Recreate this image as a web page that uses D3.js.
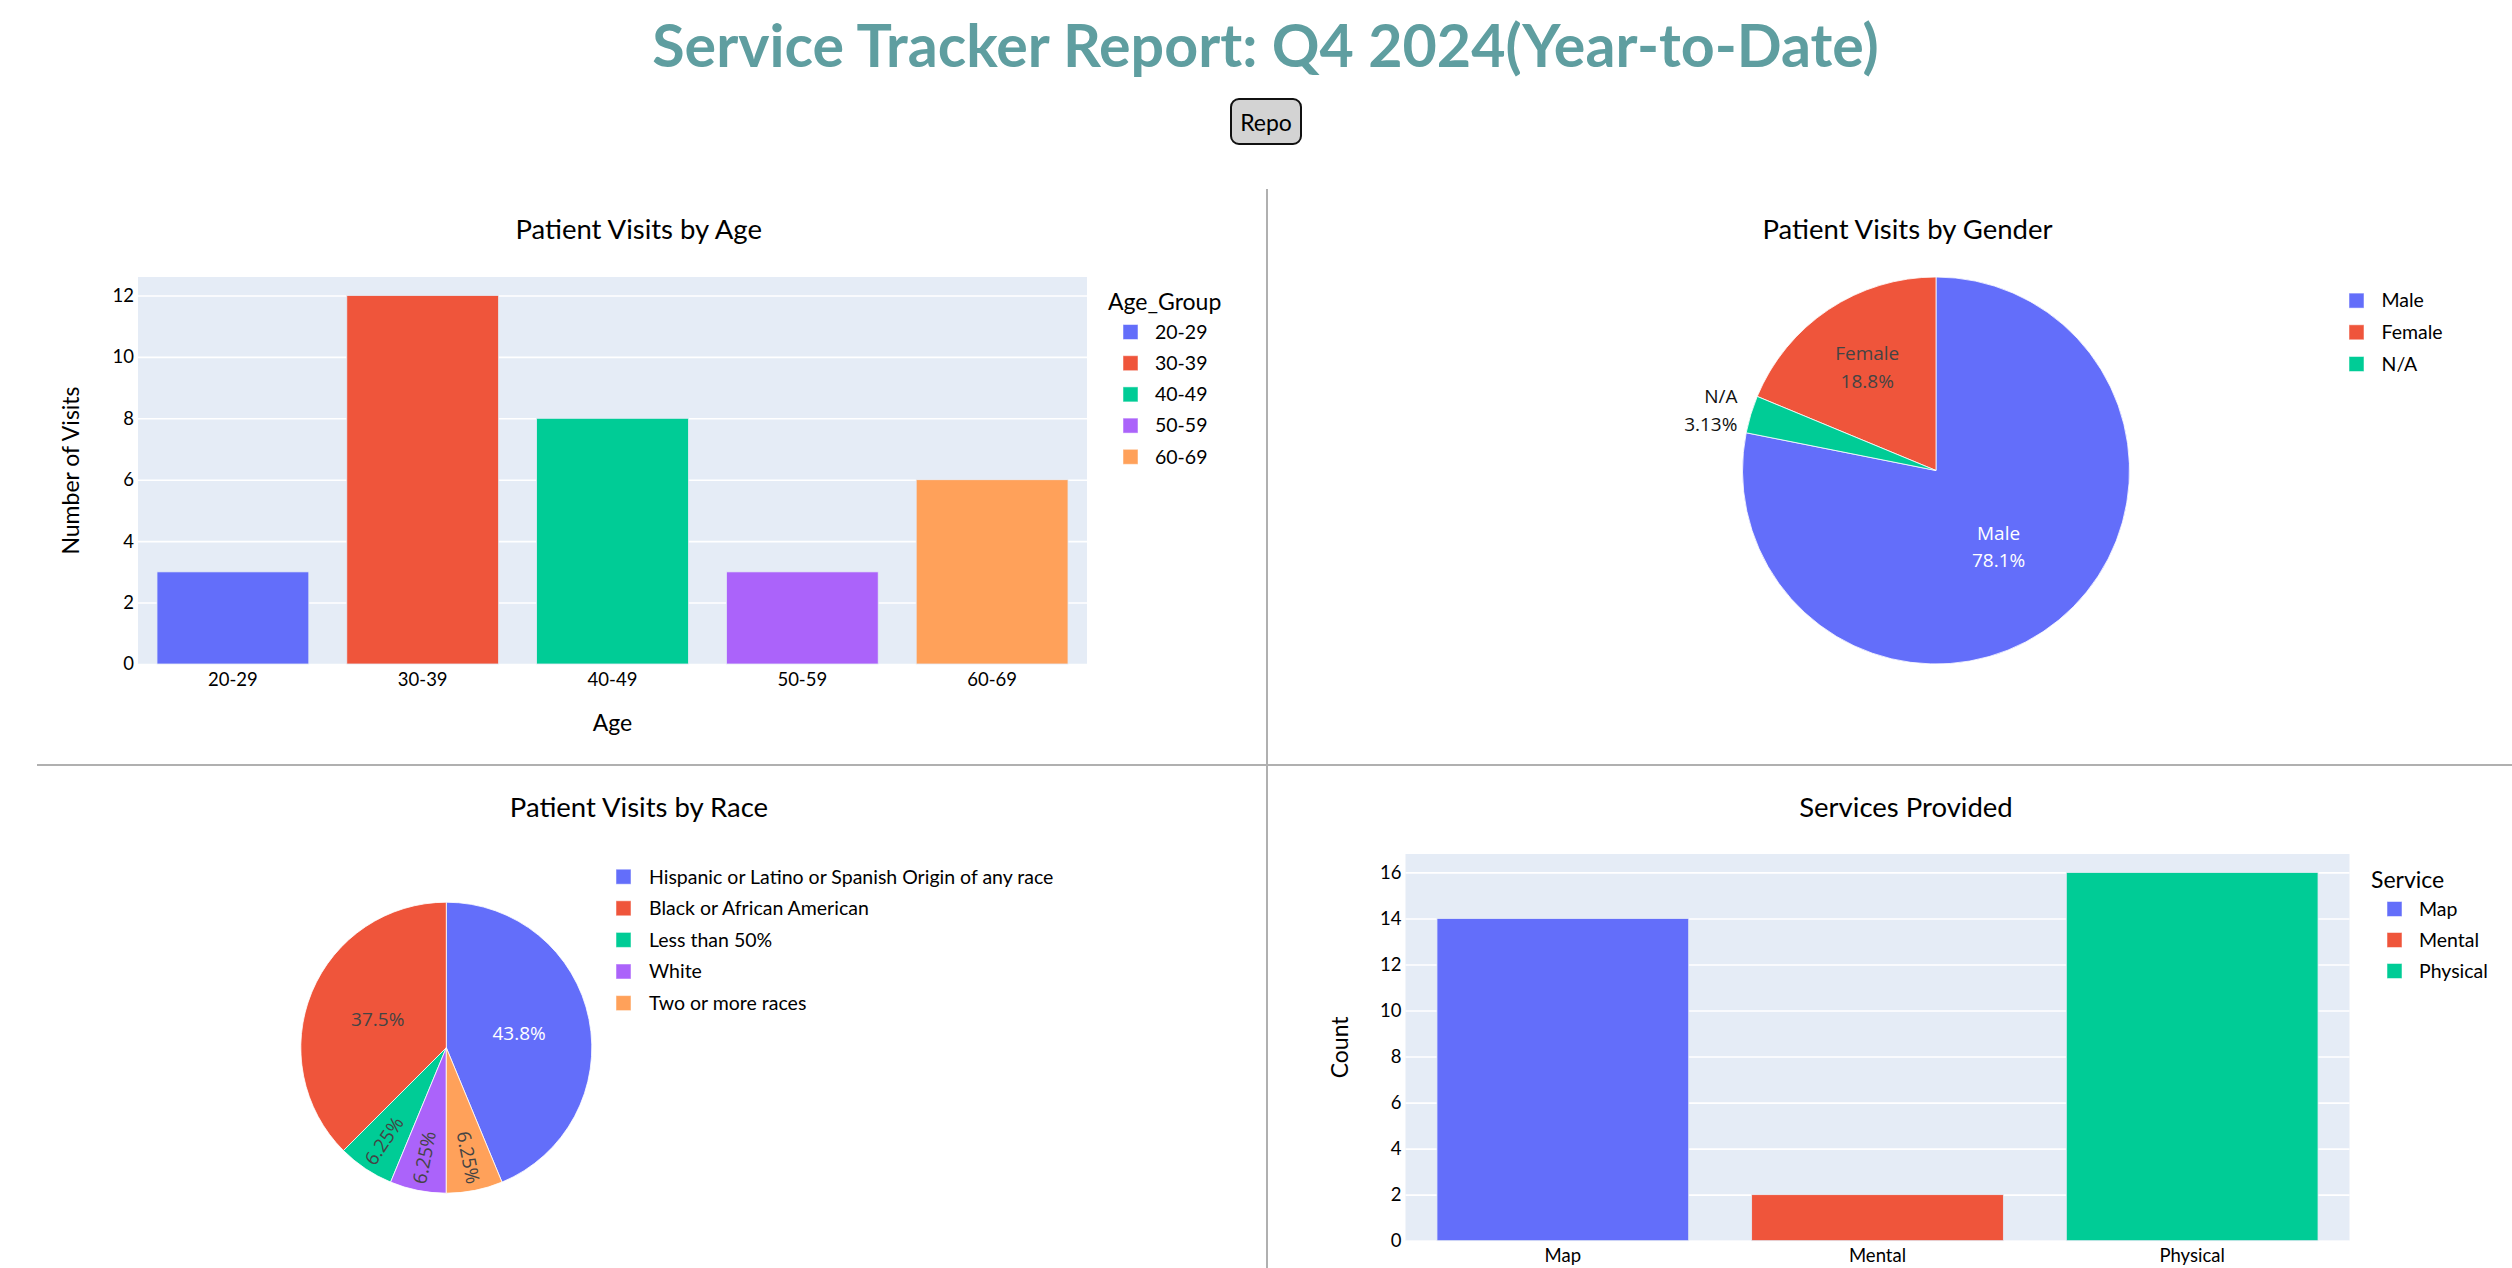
<!DOCTYPE html>
<html>
<head>
<meta charset="utf-8">
<script src="https://cdn.jsdelivr.net/npm/d3@7"></script>
<style>
  html, body { margin: 0; padding: 0; background: #fff; overflow: hidden; }
  svg { display: block; position: absolute; left: 0; top: 0; }
  #repo {
    position: absolute; left: 1230px; top: 98px; width: 72px; height: 47px;
    background: #d3d3d3; border: 2px solid #111; border-radius: 9px;
    font-family: Lato, sans-serif; font-size: 23px; color: #000; padding: 0;
    box-sizing: border-box;
  }
</style>
</head>
<body>
<svg id="chart" width="2512" height="1268"></svg>
<button id="repo">Repo</button>
<script>
// ---------------- DATA ----------------
const mainTitle = "Service Tracker Report: Q4 2024(Year-to-Date)";

const ageGroups = ["20-29", "30-39", "40-49", "50-59", "60-69"];
const ageVisits = [3, 12, 8, 3, 6];
const ageTicks = [0, 2, 4, 6, 8, 10, 12];

const genderLabels = ["Male", "Female", "N/A"];
const genderVisits = [25, 6, 1];
const genderSliceOrder = ["Male", "N/A", "Female"]; // clockwise from 12 o'clock

const raceLabels = [
  "Hispanic or Latino or Spanish Origin of any race",
  "Black or African American",
  "Less than 50%",
  "White",
  "Two or more races"
];
const raceVisits = [14, 12, 2, 2, 2];
const raceSliceOrder = [
  "Hispanic or Latino or Spanish Origin of any race",
  "Two or more races",
  "White",
  "Less than 50%",
  "Black or African American"
];

const services = ["Map", "Mental", "Physical"];
const serviceCounts = [14, 2, 16];
const serviceTicks = [0, 2, 4, 6, 8, 10, 12, 14, 16];

const palette = ["#636efa", "#EF553B", "#00cc96", "#ab63fa", "#FFA15A"];

// ---------------- STYLE ----------------
const UI_FONT = "Lato, 'Open Sans', sans-serif";
const PIE_FONT = "'Open Sans', sans-serif";
const svg = d3.select("#chart");

// main title
const tt = svg.append("text")
  .attr("x", 1265.5).attr("y", 67)
  .attr("text-anchor", "middle")
  .attr("fill", "#5f9ea0")
  .attr("font-family", UI_FONT)
  .attr("font-weight", 700)
  .attr("font-size", 50)
  .text(mainTitle);
{
  const w = tt.node().getComputedTextLength();
  tt.attr("font-size", 50 * 1227 / w);
}

// dividers
svg.append("line").attr("x1", 1267).attr("x2", 1267).attr("y1", 189).attr("y2", 1268)
  .attr("stroke", "#b0b0b0").attr("stroke-width", 2);
svg.append("line").attr("x1", 37).attr("x2", 2512).attr("y1", 765).attr("y2", 765)
  .attr("stroke", "#b0b0b0").attr("stroke-width", 2);

function panelTitle(text, x, y) {
  svg.append("text").attr("x", x).attr("y", y)
    .attr("text-anchor", "middle").attr("font-family", UI_FONT)
    .attr("font-size", 27.5).attr("fill", "#000").text(text);
}

function legend(o) {
  const g = svg.append("g");
  if (o.title) {
    g.append("text").attr("x", o.titleX).attr("y", o.titleY).attr("dy", "0.35em")
      .attr("font-family", UI_FONT).attr("font-size", 23).attr("fill", "#000").text(o.title);
  }
  o.items.forEach((lab, i) => {
    const cy = o.firstY + i * o.step;
    g.append("rect").attr("x", o.swX).attr("y", cy - 7.5).attr("width", 15).attr("height", 15)
      .attr("fill", o.colors[i]).attr("stroke", "#fff").attr("stroke-opacity", 0.5).attr("stroke-width", 1);
    g.append("text").attr("x", o.textX).attr("y", cy).attr("dy", "0.35em")
      .attr("font-family", UI_FONT).attr("font-size", 19.5).attr("fill", "#000").text(lab);
  });
}

function barChart(o) {
  const g = svg.append("g");
  const x = d3.scaleBand().domain(o.cats).range([o.left, o.right]).paddingInner(0.2).paddingOuter(0.1);
  const y = d3.scaleLinear().domain([0, d3.max(o.vals) * 1.05]).range([o.bottom, o.top]);
  g.append("rect").attr("x", o.left).attr("y", o.top)
    .attr("width", o.right - o.left).attr("height", o.bottom - o.top).attr("fill", "#E5ECF6");
  const ya = g.append("g").attr("transform", `translate(${o.left},0)`)
    .call(d3.axisLeft(y).tickValues(o.ticks).tickSize(-(o.right - o.left)).tickPadding(4).tickFormat(d3.format("d")));
  ya.select(".domain").remove();
  ya.selectAll(".tick line").attr("stroke", "#fff").attr("stroke-width", 1.6);
  ya.selectAll(".tick text").attr("font-family", UI_FONT).attr("font-size", 18.5).attr("fill", "#000");
  g.selectAll(".bar").data(o.cats).enter().append("rect")
    .attr("x", d => x(d)).attr("width", x.bandwidth())
    .attr("y", (d, i) => y(o.vals[i])).attr("height", (d, i) => y(0) - y(o.vals[i]))
    .attr("fill", (d, i) => palette[i]).attr("stroke", "#E5ECF6").attr("stroke-width", 0.8);
  const xa = g.append("g").attr("transform", `translate(0,${o.bottom})`)
    .call(d3.axisBottom(x).tickSize(0).tickPadding(o.xTickPad));
  xa.select(".domain").remove();
  xa.selectAll(".tick text").attr("font-family", UI_FONT).attr("font-size", 18.5).attr("fill", "#000");
  if (o.xTitle) {
    g.append("text").attr("x", (o.left + o.right) / 2).attr("y", o.xTitleY).attr("dy", "0.35em")
      .attr("text-anchor", "middle").attr("font-family", UI_FONT).attr("font-size", 23)
      .attr("fill", "#000").text(o.xTitle);
  }
  g.append("text")
    .attr("transform", `translate(${o.yTitleX},${(o.top + o.bottom) / 2}) rotate(-90)`)
    .attr("dy", "0.35em").attr("text-anchor", "middle").attr("font-family", UI_FONT)
    .attr("font-size", 23).attr("fill", "#000").text(o.yTitle);
}

function pieChart(o) {
  const g = svg.append("g").attr("transform", `translate(${o.cx},${o.cy})`);
  const data = o.labels.map((l, i) => ({ label: l, value: o.values[i], color: palette[i] }));
  const total = d3.sum(o.values);
  const pie = d3.pie().value(d => d.value)
    .sort((a, b) => o.order.indexOf(a.label) - o.order.indexOf(b.label));
  const arcs = pie(data);
  const arc = d3.arc().innerRadius(0).outerRadius(o.r);
  g.selectAll("path").data(arcs).enter().append("path")
    .attr("d", arc).attr("fill", d => d.data.color)
    .attr("stroke", "#fff").attr("stroke-width", 0.8);
  const pct = v => {
    const p = v / total * 100;
    return (p >= 10 ? d3.format(".1f")(p) : d3.format(".3~r")(p)) + "%";
  };
  arcs.forEach(a => {
    const share = a.data.value / total;
    const mid = (a.startAngle + a.endAngle) / 2;
    const sx = Math.sin(mid), sy = -Math.cos(mid);
    const lines = o.showLabel ? [a.data.label, pct(a.data.value)] : [pct(a.data.value)];
    const dark = a.data.color === palette[0] ? "#fff" : "#444";
    if (share < 0.05) {
      const rr = o.r + 14;
      const t = g.append("text").attr("x", rr * sx).attr("y", rr * sy)
        .attr("text-anchor", sx < 0 ? "end" : "start")
        .attr("font-family", PIE_FONT).attr("font-size", 19).attr("fill", "#111");
      lines.forEach((l, i) => t.append("tspan").attr("x", rr * sx)
        .attr("y", rr * sy + (i - (lines.length - 1) / 2) * 27.5).attr("dy", "0.35em").text(l));
    } else if (share < 0.1) {
      const rr = o.r * 0.77;
      let rot = mid * 180 / Math.PI - 90;
      if (rot > 90) rot -= 180;
      g.append("text")
        .attr("transform", `translate(${rr * sx},${rr * sy}) rotate(${rot})`)
        .attr("text-anchor", "middle").attr("dy", "0.35em")
        .attr("font-family", PIE_FONT).attr("font-size", 19).attr("fill", dark)
        .text(lines.join(" "));
    } else {
      const rr = o.r * (share >= 0.3 ? 0.51 : 0.64);
      const t = g.append("text").attr("text-anchor", "middle")
        .attr("font-family", PIE_FONT).attr("font-size", 19).attr("fill", dark);
      lines.forEach((l, i) => t.append("tspan").attr("x", rr * sx)
        .attr("y", rr * sy + (i - (lines.length - 1) / 2) * 27.5).attr("dy", "0.35em").text(l));
    }
  });
}

// ---------------- PANEL 1: Age ----------------
panelTitle("Patient Visits by Age", 638.7, 239.3);
barChart({
  cats: ageGroups, vals: ageVisits, ticks: ageTicks,
  left: 138, right: 1087, top: 277, bottom: 664,
  xTickPad: 9, xTitle: "Age", xTitleY: 722.6,
  yTitle: "Number of Visits", yTitleX: 71
});
legend({ title: "Age_Group", titleX: 1108, titleY: 302, items: ageGroups, colors: palette,
  swX: 1123, textX: 1155, firstY: 332, step: 31.2 });

// ---------------- PANEL 2: Gender ----------------
panelTitle("Patient Visits by Gender", 1907.5, 239.3);
pieChart({ labels: genderLabels, values: genderVisits, order: genderSliceOrder,
  cx: 1936, cy: 470.5, r: 193.5, showLabel: true });
legend({ items: genderLabels, colors: palette, swX: 2349, textX: 2381.5, firstY: 300.6, step: 31.7 });

// ---------------- PANEL 3: Race ----------------
panelTitle("Patient Visits by Race", 639, 816.5);
pieChart({ labels: raceLabels, values: raceVisits, order: raceSliceOrder,
  cx: 446.3, cy: 1047.7, r: 145.5, showLabel: false });
legend({ items: raceLabels, colors: palette, swX: 616, textX: 649, firstY: 876.7, step: 31.6 });

// ---------------- PANEL 4: Services ----------------
panelTitle("Services Provided", 1906, 816.5);
barChart({
  cats: services, vals: serviceCounts, ticks: serviceTicks,
  left: 1405.5, right: 2349.5, top: 854, bottom: 1240.7,
  xTickPad: 8, xTitle: null,
  yTitle: "Count", yTitleX: 1340
});
legend({ title: "Service", titleX: 2371, titleY: 880, items: services, colors: palette,
  swX: 2387, textX: 2419, firstY: 909, step: 31 });
</script>
</body>
</html>
